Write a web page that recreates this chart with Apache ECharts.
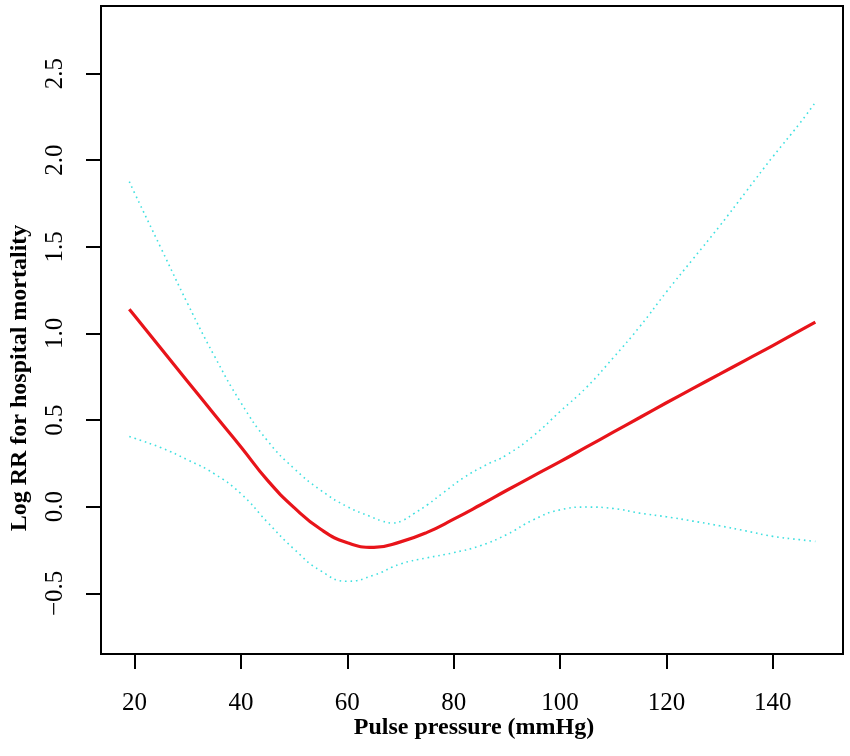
<!DOCTYPE html>
<html lang="en">
<head>
<meta charset="UTF-8">
<title>Pulse pressure vs log RR</title>
<script src="https://cdn.jsdelivr.net/npm/echarts@6/dist/echarts.min.js"></script>
<style>
	html, body { margin: 0; padding: 0; background: #fff; }
	#chart { width: 850px; height: 756px; }
</style>
</head>
<body>
<div id="chart"></div>
<script>
// 脉压 (mmHg)
const pp = [19, 20, 25, 30, 35, 40, 45, 50, 55, 60, 65, 70, 75, 80, 85, 90, 95, 100, 105, 110, 115, 120, 125, 130, 135, 140, 145, 148]
// 拟合曲线 (log RR)
const fitY = [1.14, 1.102, 0.912, 0.722, 0.532, 0.345, 0.152, -0.005, -0.13, -0.208, -0.235, -0.203, -0.148, -0.072, 0.01, 0.095, 0.178, 0.26, 0.345, 0.43, 0.515, 0.60, 0.683, 0.765, 0.848, 0.93, 1.015, 1.066]
// 95% CI 上限 (最低点附近读得更密)
const upperX = [19, 20, 25, 30, 35, 40, 45, 50, 55, 60, 64.3, 66.5, 68.5, 70.5, 72.5, 75, 78, 82, 86, 90, 95, 100, 105, 110, 115, 120, 125, 130, 135, 140, 145, 148]
const upperY = [1.876, 1.81, 1.49, 1.17, 0.87, 0.60, 0.38, 0.22, 0.095, 0.0, -0.056, -0.082, -0.094, -0.078, -0.04, 0.01, 0.08, 0.17, 0.24, 0.30, 0.41, 0.55, 0.69, 0.86, 1.04, 1.24, 1.43, 1.62, 1.82, 2.02, 2.21, 2.334]
// 95% CI 下限
const lowerY = [0.405, 0.395, 0.34, 0.27, 0.19, 0.075, -0.09, -0.245, -0.37, -0.43, -0.395, -0.33, -0.295, -0.265, -0.225, -0.16, -0.075, -0.018, -0.002, -0.01, -0.037, -0.058, -0.083, -0.11, -0.14, -0.171, -0.19, -0.20]
// 刻度
const xTicks = [20, 40, 60, 80, 100, 120, 140]
const yTicks = [-0.5, 0, 0.5, 1.0, 1.5, 2.0, 2.5]
const xTitle = 'Pulse pressure (mmHg)'
const yTitle = 'Log RR for hospital mortality'

function pairs(xs, ys) {
	return xs.map((x, i) => [x, ys[i]])
}

const serif = '"Liberation Serif", "DejaVu Serif", serif'
const chart = echarts.init(document.getElementById('chart'), null, { renderer: 'canvas' })

chart.setOption({
	animation: false,
	backgroundColor: '#fff',
	grid: {
		left: 101, top: 6, right: 7, bottom: 102,
		show: true, borderColor: '#000', borderWidth: 2, backgroundColor: 'transparent'
	},
	xAxis: {
		type: 'value',
		min: 13.68, max: 153.2,
		axisLine: { show: false, onZero: false },
		splitLine: { show: false },
		axisTick: {
			show: true, inside: false, length: 15, customValues: xTicks,
			lineStyle: { color: '#000', width: 2 }
		},
		axisLabel: {
			customValues: xTicks, margin: 37,
			color: '#000', fontFamily: serif, fontSize: 25
		}
	},
	yAxis: {
		type: 'value',
		min: -0.85, max: 2.89,
		axisLine: { show: false, onZero: false },
		splitLine: { show: false },
		axisTick: {
			show: true, inside: false, length: 15, customValues: yTicks,
			lineStyle: { color: '#000', width: 2 }
		},
		axisLabel: {
			customValues: yTicks, rotate: 90, margin: 33,
			color: '#000', fontFamily: serif, fontSize: 25,
			formatter: v => (v < 0 ? '\u2212' : '') + Math.abs(v).toFixed(1)
		}
	},
	graphic: [
		{
			type: 'text', x: 474, y: 716,
			style: { text: xTitle, font: 'bold 24px ' + serif, fill: '#000', align: 'center', verticalAlign: 'top' }
		},
		{
			type: 'text', x: 8, y: 378, rotation: Math.PI / 2,
			style: { text: yTitle, font: 'bold 24px ' + serif, fill: '#000', align: 'center', verticalAlign: 'top' }
		}
	],
	series: [
		{
			type: 'line', data: pairs(upperX, upperY), showSymbol: false, smooth: 0.5,
			lineStyle: { color: '#40e0e0', width: 1.6, type: [1.6, 3.8] }
		},
		{
			type: 'line', data: pairs(pp, lowerY), showSymbol: false, smooth: 0.5,
			lineStyle: { color: '#40e0e0', width: 1.6, type: [1.6, 3.8] }
		},
		{
			type: 'line', data: pairs(pp, fitY), showSymbol: false, smooth: 0.5,
			lineStyle: { color: '#e8141a', width: 3.2 }
		}
	]
})
</script>
</body>
</html>
